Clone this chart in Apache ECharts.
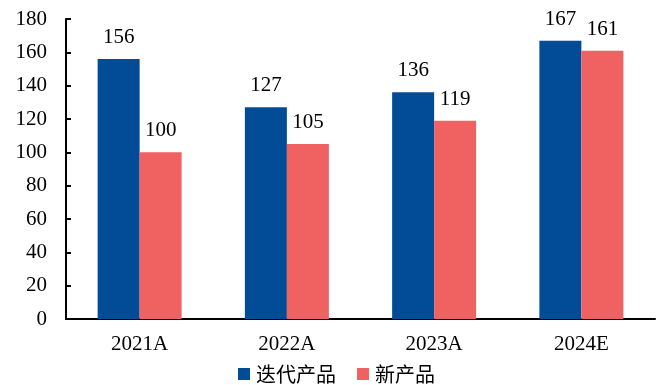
<!DOCTYPE html>
<html><head><meta charset="utf-8">
<script src="https://cdn.jsdelivr.net/npm/echarts@6/dist/echarts.min.js"></script>
<style>html,body{margin:0;padding:0;background:#fff}#c{width:663px;height:385px}</style>
</head><body><div id="c"></div>
<script>
const categories = ['2021A', '2022A', '2023A', '2024E'];
const iterValues = [156, 127, 136, 167];
const newValues = [100, 105, 119, 161];
const seriesNames = ['迭代产品', '新产品'];
const serif = '"Liberation Serif", "Times New Roman", serif';
const chart = echarts.init(document.getElementById('c'));
chart.setOption({
  animation: false,
  grid: {left: 66, right: 8, top: 19, bottom: 66, containLabel: false},
  legend: {
    top: 364, left: 238, padding: 0, itemWidth: 12, itemHeight: 12, itemGap: 21,
    icon: 'rect',
    textStyle: {fontFamily: '"Noto Sans CJK SC", serif', fontSize: 20, color: '#000', padding: [0, 0, 0, 1]},
    data: seriesNames
  },
  xAxis: {
    type: 'category', data: categories,
    axisLine: {lineStyle: {color: '#000', width: 2}},
    axisTick: {show: false},
    axisLabel: {fontFamily: serif, fontSize: 21, color: '#000', margin: 15}
  },
  yAxis: {
    type: 'value', min: 0, max: 180, interval: 20,
    splitLine: {show: false},
    axisLine: {show: true, lineStyle: {color: '#000', width: 2}},
    axisTick: {show: true, inside: true, length: 5, lineStyle: {color: '#000', width: 2}},
    axisLabel: {fontFamily: serif, fontSize: 21, color: '#000', margin: 19}
  },
  series: [
    {name: seriesNames[0], type: 'bar', data: iterValues, barWidth: 42, barGap: '0%',
     itemStyle: {color: '#024B96'},
     label: {show: true, position: 'top', distance: 11, fontFamily: serif, fontSize: 21, color: '#000'}},
    {name: seriesNames[1], type: 'bar', data: newValues, barWidth: 42, barGap: '0%',
     itemStyle: {color: '#F06161'},
     label: {show: true, position: 'top', distance: 11, fontFamily: serif, fontSize: 21, color: '#000'}}
  ]
});
</script></body></html>
